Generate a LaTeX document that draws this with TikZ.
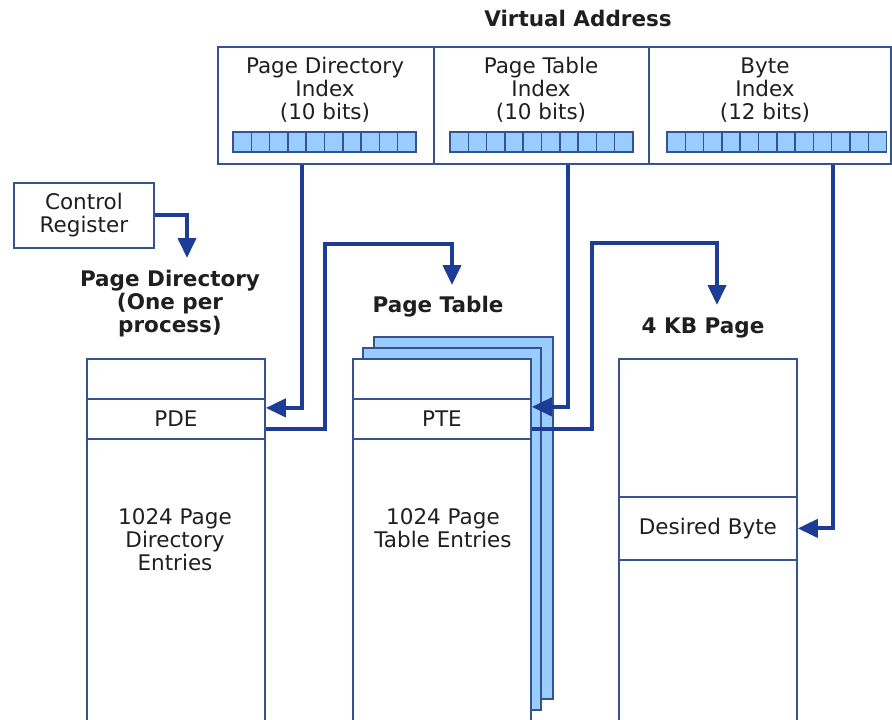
\documentclass[tikz,border=0pt]{standalone}
\usepackage{fontspec}
\setmainfont{DejaVu Sans}
\usetikzlibrary{calc}
\usetikzlibrary{arrows.meta}
\definecolor{edge}{HTML}{35548F}
\definecolor{wire}{HTML}{1C3C96}
\definecolor{cell}{HTML}{99CCFF}

\begin{document}
\begin{tikzpicture}[x=1pt,y=-1pt,
	txt/.style={align=center,inner sep=0pt,text=black!88,font=\fontsize{21.5}{23}\selectfont},
	heading/.style={txt,font=\bfseries\fontsize{21.5}{23}\selectfont},
	frame/.style={draw=edge,line width=1.8pt,fill=white,inner sep=0pt,anchor=north west},
	band/.style={frame,txt,anchor=north,minimum width=178pt,minimum height=40pt},
	bit/.style={draw=edge,line width=1.5pt,fill=cell},
	link/.style={draw=wire,line width=4pt,-{Triangle[width=18pt,length=20pt]}}]
	\path[use as bounding box,fill=white] (0,0) rectangle (892,720);
	\clip (0,0) rectangle (892,720);

	% virtual address fields
	\node[heading] (va) at (578,18) {Virtual Address};
	\node[frame,minimum width=216pt,minimum height=117pt] (pdi) at (217,46) {};
	\node[frame,minimum width=215pt,minimum height=117pt] (pti) at (433,46) {};
	\node[frame,minimum width=242pt,minimum height=117pt] (bi) at (648,46) {};
	\node[txt] (pditext) at (325,90) {Page Directory\\Index\\(10 bits)};
	\node[txt] (ptitext) at (541,90) {Page Table\\Index\\(10 bits)};
	\node[txt] (bitext) at (765,90) {Byte\\Index\\(12 bits)};
	\foreach \x/\n in {233/9,450/9,667/11}
		\foreach \i in {0,...,\n}
			\draw[bit] (\x+18.3*\i,132) rectangle ++(18.3,20);

	\node[frame,txt,minimum width=140pt,minimum height=65pt] (cr) at (13,182) {Control\\Register};

	% page directory
	\node[heading] (pdhead) at (170,304) {Page Directory\\(One per\\process)};
	\node[frame,minimum width=178pt,minimum height=370pt] (pd) at (86,358) {};
	\node[band] (pde) at ($(pd.north)+(0,40)$) {PDE};
	\node[txt] (pdtext) at (175,540) {1024 Page\\Directory\\Entries};

	% page table, with two more behind it
	\node[heading] (pthead) at (438,307) {Page Table};
	\node[frame,fill=cell,minimum width=179pt,minimum height=362pt] (pt2) at (373,336) {};
	\node[frame,fill=cell,minimum width=178pt,minimum height=362pt] (pt1) at (362,347) {};
	\node[frame,minimum width=178pt,minimum height=370pt] (pt) at (352,358) {};
	\node[band] (pte) at ($(pt.north)+(0,40)$) {PTE};
	\node[txt] (pttext) at (443,528) {1024 Page\\Table Entries};

	% 4 KB page
	\node[heading] (kbhead) at (703,328) {4 KB Page};
	\node[frame,minimum width=178pt,minimum height=370pt] (kb) at (618,358) {};
	\node[band,minimum height=63pt] (byte) at ($(kb.north)+(0,138)$) {Desired Byte};

	\coordinate (crtip) at (187,258);
	\coordinate (pttip) at (452,285);
	\coordinate (kbtip) at (717,305);
	\draw[link] (cr.east) -| (crtip);
	\draw[link] ($(pdi.south west)+(85,0)$) |- ($(pde.east)+(0,-11)$);
	\draw[link] ($(pde.east)+(0,10)$) -- ++(59,0) |- ($(pttip)+(0,-41)$) -- (pttip);
	\draw[link] ($(pti.south west)+(135,0)$) |- ($(pte.east)+(0,-12)$);
	\draw[link] ($(pte.east)+(0,10)$) -- ++(60,0) |- ($(kbtip)+(0,-62)$) -- (kbtip);
	\draw[link] ($(bi.south west)+(185,0)$) |- (byte.east);
\end{tikzpicture}
\end{document}
